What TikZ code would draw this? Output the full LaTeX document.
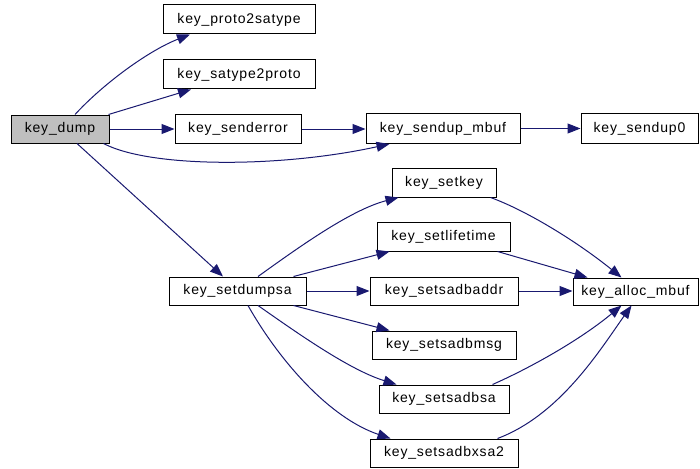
\documentclass[tikz,border=0pt]{standalone}
\usepackage{fontspec}
\setmainfont{Liberation Sans}[LetterSpace=6]
\usetikzlibrary{arrows.meta}
\definecolor{edgeblue}{HTML}{191970}
\definecolor{rootgray}{HTML}{BFBFBF}
\begin{document}
\begin{tikzpicture}[x=1pt,y=-1pt,
  fn/.style={draw=black,line width=1pt,fill=white,rectangle,minimum height=28pt,
    inner sep=0pt,font=\fontsize{14}{16}\selectfont},
  root/.style={fn,fill=rootgray},
  call/.style={draw=edgeblue,line width=1pt,-{Triangle[length=13pt,width=10pt]}}]
\useasboundingbox (0,0) rectangle (700,468);
% functions
\node[root,minimum width=98pt]  (dump)   at (60,129)    {key\_dump};
\node[fn,minimum width=152pt,minimum height=29pt] (p2s) at (239,19.5) {key\_proto2satype};
\node[fn,minimum width=152pt,minimum height=29pt] (s2p) at (239,74.5) {key\_satype2proto};
\node[fn,minimum width=126pt,minimum height=29pt] (serr) at (238,129) {key\_senderror};
\node[fn,minimum width=154pt,minimum height=30pt] (smbuf) at (443,128.5) {key\_sendup\_mbuf};
\node[fn,minimum width=117pt,minimum height=30pt] (sup0) at (639.5,128.5) {key\_sendup0};
\node[fn,minimum width=137pt] (dsa)   at (237.5,291) {key\_setdumpsa};
\node[fn,minimum width=104pt,minimum height=29pt] (skey)  at (444,182.5) {key\_setkey};
\node[fn,minimum width=133pt,minimum height=29pt] (slife) at (443.5,236.5) {key\_setlifetime};
\node[fn,minimum width=148pt] (saddr) at (444,291) {key\_setsadbaddr};
\node[fn,minimum width=144pt] (smsg)  at (444,345) {key\_setsadbmsg};
\node[fn,minimum width=130pt] (ssa)   at (444,399) {key\_setsadbsa};
\node[fn,minimum width=148pt] (sxsa)  at (444,453) {key\_setsadbxsa2};
\node[fn,minimum width=125pt,minimum height=27pt] (alloc) at (635.5,291.5) {key\_alloc\_mbuf};
% calls from key_dump
\draw[call] ([xshift=15pt]dump.north) .. controls (105,82) and (150,50) .. ([xshift=-49pt]p2s.south);
\draw[call] ([xshift=-1pt]dump.north east) -- ([xshift=-48pt]s2p.south);
\draw[call] (dump.east) -- (serr.west);
\draw[call] ([xshift=-6pt]dump.south east) .. controls (150,168) and (280,168) .. ([xshift=24pt]smbuf.south west);
\draw[call] ([xshift=17pt]dump.south) -- ([xshift=-14.5pt]dsa.north);
\draw[call] (serr.east) -- (serr.east -| smbuf.west);
\draw[call] (smbuf.east) -- (sup0.west);
% calls from key_setdumpsa
\draw[call] ([xshift=20.5pt]dsa.north) .. controls (295,250) and (350,210) .. ([xshift=7pt]skey.south west);
\draw[call] ([xshift=-13pt]dsa.north east) -- ([xshift=13pt]slife.south west);
\draw[call] (dsa.east) -- (saddr.west);
\draw[call] ([xshift=-13pt]dsa.south east) -- ([xshift=18pt]smsg.north west);
\draw[call] ([xshift=20.5pt]dsa.south) .. controls (300,335) and (350,370) .. ([xshift=18pt]ssa.north west);
\draw[call] ([xshift=10.5pt]dsa.south) .. controls (280,362) and (330,418) .. ([xshift=21pt]sxsa.north west);
% calls into key_alloc_mbuf
\draw[call] ([xshift=-6pt]skey.south east) .. controls (525,210) and (575,240) .. ([xshift=49pt]alloc.north west);
\draw[call] ([xshift=-13pt]slife.south east) -- ([xshift=15pt]alloc.north west);
\draw[call] (saddr.east) -- (saddr.east -| alloc.west);
\draw[call] ([xshift=-17pt]ssa.north east) .. controls (530,368) and (580,340) .. ([xshift=49pt]alloc.south west);
\draw[call] ([xshift=-21pt]sxsa.north east) .. controls (560,415) and (600,350) .. ([xshift=59pt]alloc.south west);
\end{tikzpicture}
\end{document}
